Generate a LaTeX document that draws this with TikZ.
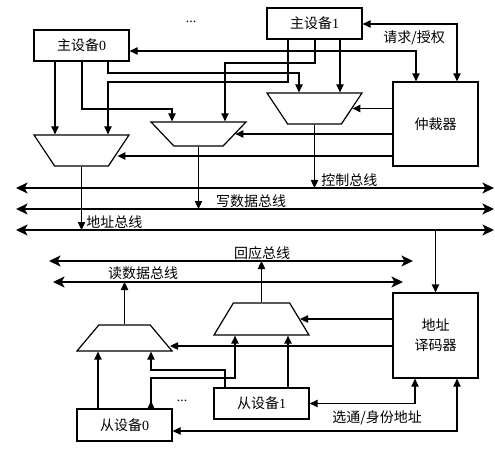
\documentclass[tikz,border=0pt]{standalone}
\usepackage{fontspec}
\setmainfont{Liberation Serif}
\newfontfamily\cjk{Noto Sans CJK SC}
\usepackage{tikz}
\usetikzlibrary{arrows.meta,shapes.geometric}

\tikzset{
  unit/.style={draw, line width=0.9pt, inner sep=0pt, align=center, font=\cjk\fontsize{10.5}{15}\selectfont},
  mux/.style={draw, trapezium, trapezium stretches=true, line width=0.9pt, inner sep=1pt, minimum width=71.25pt},
  link/.style={line width=0.9pt, -{Triangle[length=6pt,width=5.5pt]}},
  dlink/.style={line width=0.9pt, {Triangle[length=6pt,width=5.5pt]}-{Triangle[length=6pt,width=5.5pt]}},
  bus/.style={line width=2.2pt, {Stealth[length=8.5pt,width=8pt,inset=2pt]}-{Stealth[length=8.5pt,width=8pt,inset=2pt]}},
  lbl/.style={inner sep=0.75pt, font=\cjk\fontsize{10.5}{12}\selectfont},
}

\begin{document}
\begin{tikzpicture}[x=0.75pt,y=0.75pt,yscale=-1,xscale=1]
  \useasboundingbox (0,0) rectangle (495,452);

  %Shape: Rectangle
  \node[unit, minimum width=71.25pt, minimum height=23.25pt] (m0) at (81.5,45.5) {主设备\textrm{0}};
  \node[unit, minimum width=71.25pt, minimum height=23.25pt] (m1) at (314.5,23.5) {主设备\textrm{1}};
  \node[unit, minimum width=63.75pt, minimum height=63pt] (arb) at (435.5,124) {仲裁器};
  \node[unit, minimum width=63.75pt, minimum height=63.75pt] (dec) at (435.5,335.5) {地址\\译码器};
  \node[unit, minimum width=71.25pt, minimum height=24pt] (s0) at (124.5,425) {从设备\textrm{0}};
  \node[unit, minimum width=71.25pt, minimum height=23.25pt] (s1) at (261.5,403.5) {从设备\textrm{1}};

  %Shape: Trapezoid
  \node[mux, minimum height=23.25pt, trapezium left angle=111, trapezium right angle=111] (muxA) at (81.5,150.5) {};
  \node[mux, minimum height=18pt, trapezium left angle=115, trapezium right angle=115] (muxB) at (198.5,134) {};
  \node[mux, minimum height=23.25pt, trapezium left angle=111, trapezium right angle=111] (muxC) at (314.5,108.5) {};
  \node[mux, minimum height=19.5pt, trapezium left angle=67, trapezium right angle=67] (muxD) at (124.5,338) {};
  \node[mux, minimum height=24pt, trapezium left angle=71, trapezium right angle=71] (muxE) at (261.5,319) {};

  % Text Node
  \node[lbl] (dotsM) at (191,22) {\textrm{...}};
  \node[lbl] (dotsS) at (182,401) {\textrm{...}};

  %Straight Lines: buses
  \coordinate (ctlL) at (16,188);  \coordinate (ctlR) at (494,188);
  \coordinate (wrL) at (16,209);   \coordinate (wrR) at (494,209);
  \coordinate (adL) at (16,230);   \coordinate (adR) at (494,230);
  \coordinate (rspL) at (49,261);  \coordinate (rspR) at (413,261);
  \coordinate (rdL) at (53,282);   \coordinate (rdR) at (403,282);
  \draw[bus] (ctlL) -- (ctlR);
  \draw[bus] (wrL) -- (wrR);
  \draw[bus] (adL) -- (adR);
  \draw[bus] (rspL) -- (rspR);
  \draw[bus] (rdL) -- (rdR);

  %Straight Lines: masters to muxes
  \draw[link] (m0.south -| 55,0) -- (muxA.north -| 55,0);
  \draw[link] (m0.south -| 82,0) -- (82,109) -- (172,109) -- (muxB.north -| 172,0);
  \draw[link] (m0.south -| 108,0) -- (108,73) -- (299,73) -- (muxC.north -| 299,0);
  \draw[link] (m1.south -| 288,0) -- (288,82) -- (108,82) -- (muxA.north -| 108,0);
  \draw[link] (m1.south -| 315,0) -- (315,63) -- (225,63) -- (muxB.north -| 225,0);
  \draw[link] (m1.south -| 340,0) -- (muxC.north -| 340,0);

  %Straight Lines: arbiter
  \draw[dlink] (m0.east |- 0,51) -- (416,51) -- (arb.north -| 416,0);
  \draw[dlink] (m1.east |- 0,24) -- (457,24) -- (arb.north -| 457,0);
  \draw[link] (arb.west |- muxC.east) -- (muxC.east);
  \draw[link] (arb.west |- muxB.east) -- (muxB.east);
  \draw[link] (arb.west |- 0,156) -- ([xshift=-1.5pt]muxA.east |- 0,156);

  %Straight Lines: muxes to buses
  \draw[link] (muxA.south) -- (muxA.south |- adL);
  \draw[link] (muxB.south) -- (muxB.south |- wrL);
  \draw[link] (muxC.south) -- (muxC.south |- ctlL);
  \draw[link] (dec.north |- adR) -- (dec.north);

  %Straight Lines: decoder
  \draw[link] (dec.west |- muxE.east) -- (muxE.east);
  \draw[link] (dec.west |- 0,346) -- (170,346);
  \draw[dlink] (s1.east) -- (s1.east -| 415,0) -- (dec.south -| 415,0);
  \draw[dlink] (s0.east |- 0,431) -- (457,431) -- (dec.south -| 457,0);

  %Straight Lines: slaves to muxes
  \draw[link] (muxD.north) -- (muxD.north |- rdL);
  \draw[link] (muxE.north) -- (muxE.north |- rspL);
  \draw[link] (s0.north -| 98,0) -- (muxD.south -| 98,0);
  \draw[link] (s0.north -| 151,0) -- (151,378) -- (235,378) -- (muxE.south -| 235,0);
  \draw[link] (s0.north -| 151,0) -- (151,401);
  \draw[link] (s1.north -| 225,0) -- (225,370) -- (151,370) -- (muxD.south -| 151,0);
  \draw[link] (s1.north -| 288,0) -- (muxE.south -| 288,0);

  % Text Node
  \node[lbl] (reqT) at (414,38) {请求/授权};
  \node[lbl, anchor=west] (ctlT) at (320,180) {控制总线};
  \node[lbl] (wrT) at (251,201) {写数据总线};
  \node[lbl, anchor=west] (adT) at (85,222) {地址总线};
  \node[lbl] (rspT) at (262,253) {回应总线};
  \node[lbl] (rdT) at (143,273) {读数据总线};
  \node[lbl] (selT) at (377,418) {选通/身份地址};

\end{tikzpicture}
\end{document}
